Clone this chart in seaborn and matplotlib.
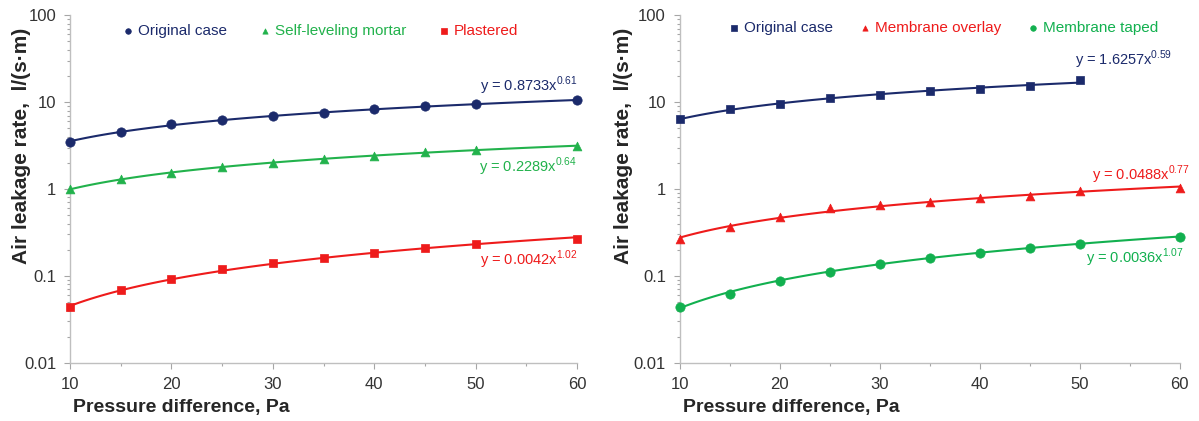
import numpy as np
import pandas as pd
import matplotlib
matplotlib.use("Agg")
import matplotlib.pyplot as plt
import matplotlib.ticker as mticker
import seaborn as sns

sns.set_theme(style="white")
plt.rcParams['font.family'] = ['Liberation Sans', 'DejaVu Sans']
plt.rcParams['mathtext.fontset'] = 'custom'
plt.rcParams['mathtext.rm'] = 'Liberation Sans'

# dados
pressao = [10, 15, 20, 25, 30, 35, 40, 45, 50, 60]
pressao_orig_dir = [10, 15, 20, 25, 30, 35, 40, 45, 50]

esq_original = [3.52, 4.5, 5.53, 6.27, 6.84, 7.55, 8.3, 8.9, 9.5, 10.5]
esq_argamassa = [1.0, 1.3, 1.53, 1.78, 2.0, 2.2, 2.43, 2.65, 2.84, 3.14]
esq_rebocado = [0.0434, 0.0686, 0.0925, 0.119, 0.142, 0.162, 0.185, 0.207, 0.233, 0.267]

dir_original = [6.4, 8.3, 9.6, 11.0, 12.0, 13.3, 14.3, 15.3, 18.1]
dir_sobreposta = [0.263, 0.366, 0.48, 0.61, 0.65, 0.70, 0.78, 0.84, 0.94, 1.02]
dir_colada = [0.0443, 0.0622, 0.0877, 0.112, 0.139, 0.162, 0.185, 0.212, 0.236, 0.281]

equacoes_esq = ["y = 0.8733x$^{0.61}$", "y = 0.2289x$^{0.64}$", "y = 0.0042x$^{1.02}$"]
equacoes_dir = ["y = 1.6257x$^{0.59}$", "y = 0.0488x$^{0.77}$", "y = 0.0036x$^{1.07}$"]

azul = "#1b2a6b"
verde_esq = "#22b24c"
verde_dir = "#12b04f"
vermelho = "#ee1b1b"


def tendencia(x, y):
    # linha de tendencia potencia ajustada aos pontos (como no Excel)
    b, a = np.polyfit(np.log(x), np.log(y), 1)
    xs = np.linspace(min(x), max(x), 100)
    return pd.DataFrame({"x": xs, "y": np.exp(a) * xs ** b})


def desenhar(ax, series, equacoes, pos_eq, pos_leg, x_ylabel, espaco):
    for (nome, x, y, cor, marcador, tam) in series:
        t = tendencia(x, y)
        sns.lineplot(data=t, x="x", y="y", color=cor, lw=1.5, ax=ax)
        sns.scatterplot(x=x, y=y, color=cor, marker=marcador, s=tam, edgecolor=cor,
                        linewidth=0.5, label=nome, ax=ax, clip_on=False, zorder=5)
    for (texto, (px, py), cor) in zip(equacoes, pos_eq, [s[3] for s in series]):
        ax.text(px, py, texto, color=cor, fontsize=10.5, ha="right", va="center")

    ax.set_yscale("log")
    ax.set_xlim(10, 60)
    ax.set_ylim(0.01, 100)
    ax.yaxis.set_major_locator(mticker.FixedLocator([0.01, 0.1, 1, 10, 100]))
    ax.yaxis.set_major_formatter(mticker.FixedFormatter(["0.01", "0.1", "1", "10", "100"]))
    ax.yaxis.set_minor_locator(mticker.LogLocator(base=10, subs=np.arange(2, 10)))
    ax.yaxis.set_minor_formatter(mticker.NullFormatter())
    ax.xaxis.set_major_locator(mticker.MultipleLocator(10))
    ax.xaxis.set_minor_locator(mticker.MultipleLocator(5))
    ax.tick_params(which="both", direction="out", color="#a6a6a6", labelsize=12, labelcolor="#333333")
    ax.tick_params(which="major", length=4, width=0.8)
    ax.tick_params(which="minor", length=2.5, width=0.8)
    ax.tick_params(axis="x", which="both", bottom=True, pad=6)
    ax.tick_params(axis="y", which="both", left=True, pad=6)
    for lado in ["top", "right"]:
        ax.spines[lado].set_visible(False)
    for lado in ["left", "bottom"]:
        ax.spines[lado].set_color("#bfbfbf")
        ax.spines[lado].set_linewidth(1.0)
    ax.set_xlabel("Pressure difference, Pa", fontsize=14, fontweight="bold", loc="left")
    ax.set_ylabel("Air leakage rate,  l/(s·m)", fontsize=15, fontweight="bold")
    ax.xaxis.set_label_coords(0.006, -0.104)
    ax.yaxis.set_label_coords(x_ylabel, 0.625)
    ax.grid(False)

    leg = ax.legend(loc="upper center", bbox_to_anchor=pos_leg, ncol=3, frameon=False,
                    fontsize=11, handlelength=0.8, handletextpad=0.25, columnspacing=espaco,
                    markerscale=0.6, borderaxespad=0.2)
    for txt, s in zip(leg.get_texts(), series):
        txt.set_color(s[3])


fig = plt.figure(figsize=(11.99, 4.21), dpi=100)
ax1 = fig.add_axes([0.0584, 0.138, 0.423, 0.826])
ax2 = fig.add_axes([0.567, 0.138, 0.417, 0.826])

desenhar(ax1, [
    ("Original case", pressao, esq_original, azul, "o", 45),
    ("Self-leveling mortar", pressao, esq_argamassa, verde_esq, "^", 40),
    ("Plastered", pressao, esq_rebocado, vermelho, "s", 40),
], equacoes_esq, [(60, 15.5), (60, 1.8), (60, 0.152)], (0.493, 1.0), -0.077, 2.1)

desenhar(ax2, [
    ("Original case", pressao_orig_dir, dir_original, azul, "s", 40),
    ("Membrane overlay", pressao, dir_sobreposta, vermelho, "^", 40),
    ("Membrane taped", pressao, dir_colada, verde_dir, "o", 45),
], equacoes_dir, [(59.2, 31), (61, 1.45), (60.4, 0.163)], (0.526, 1.01), -0.094, 1.7)

fig.savefig("out.png", dpi=100)
plt.close(fig)
